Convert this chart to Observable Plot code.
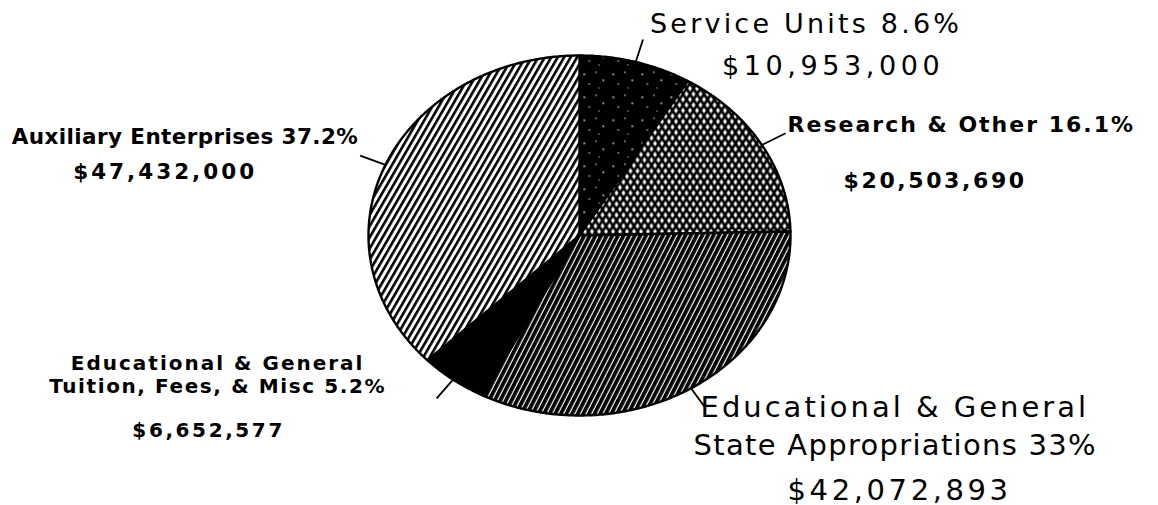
<!DOCTYPE html>
<html><head><meta charset="utf-8">
<script src="https://cdn.jsdelivr.net/npm/d3@7"></script>
<script src="https://cdn.jsdelivr.net/npm/@observablehq/plot@0.6"></script>
<style>html,body{margin:0;padding:0;background:#fff;} svg{display:block;}</style>
</head><body><div id="chart"></div>
<script>
// ---- data ----
const categories = ["Service Units", "Research & Other", "Educational & General State Appropriations", "Educational & General Tuition, Fees, & Misc", "Auxiliary Enterprises"];
const nameLines = [["Service Units"], ["Research & Other"], ["Educational & General", "State Appropriations"], ["Educational & General", "Tuition, Fees, & Misc"], ["Auxiliary Enterprises"]];
const amounts = [10953000, 20503690, 42072893, 6652577, 47432000];
const percentLabels = ["8.6%", "16.1%", "33%", "5.2%", "37.2%"];
const fillPatterns = ["speckle", "crosshatch", "densehatch", "solid", "hatch"];

// ---- layout / style (not data) ----
const labelLayout = [
  {font: "DejaVu Sans", weight: "normal", size: 27, lines: [[7, -6, "start", 3.2], [79, 36, "start", 4.6]]},
  {font: "DejaVu Sans", weight: "bold", size: 22, lines: [[2, -1, "start", 2.0], [58, 55, "start", 2.6]]},
  {font: "DejaVu Sans", weight: "normal", size: 29, lines: [[-5, 9, "start", 3.0], [-12, 47, "start", 1.3], [82, 92, "start", 3.6]]},
  {font: "DejaVu Sans", weight: "bold", size: 20, lines: [[-219, -28, "middle", 2.0], [-219, -5, "middle", 1.6], [-228, 39, "middle", 2.6]]},
  {font: "DejaVu Sans", weight: "bold", size: 21.5, lines: [[-2, -12, "end", 0.4], [-287, 23, "start", 3.0]]}
];
const leaderOuter = 1.13;

const fmtMoney = d3.format("$,");
const arcs = d3.pie().sort(null).value(d => d)(amounts);
const mid = a => (a.startAngle + a.endAngle) / 2;

// slice polygons in unit-ellipse space (x = sin, y = cos; clockwise from 12 o'clock)
const polys = arcs.map((a, i) => {
  const n = Math.max(4, Math.ceil((a.endAngle - a.startAngle) / 0.01));
  const pts = [{i, x: 0, y: 0}];
  for (let k = 0; k <= n; ++k) {
    const t = a.startAngle + (a.endAngle - a.startAngle) * k / n;
    pts.push({i, x: Math.sin(t), y: Math.cos(t)});
  }
  pts.push({i, x: 0, y: 0});
  return pts;
});

const sliceMarks = polys.map((p, i) => Plot.line(p, {
  x: "x", y: "y", fill: `url(#pat-${fillPatterns[i]})`, stroke: "black", strokeWidth: 2.4, strokeLinejoin: "round"
}));

const leaders = Plot.link(arcs, {
  x1: a => Math.sin(mid(a)), y1: a => Math.cos(mid(a)),
  x2: a => leaderOuter * Math.sin(mid(a)), y2: a => leaderOuter * Math.cos(mid(a)),
  stroke: "black", strokeWidth: 1.8
});

const textMarks = [];
const spacings = [];
arcs.forEach((a, i) => {
  const lines = nameLines[i].slice();
  lines[lines.length - 1] = lines[lines.length - 1] + " " + percentLabels[i];
  lines.push(fmtMoney(amounts[i]));
  const L = labelLayout[i];
  lines.forEach((txt, j) => {
    const [dx, dy, anchor, sp] = L.lines[j];
    spacings.push(sp);
    textMarks.push(Plot.text([a], {
      x: d => leaderOuter * Math.sin(mid(d)), y: d => leaderOuter * Math.cos(mid(d)),
      text: () => txt, dx, dy, textAnchor: anchor, lineAnchor: "bottom",
      fontFamily: L.font, fontWeight: L.weight, fontSize: L.size, fill: "black"
    }));
  });
});

const svg = Plot.plot({
  width: 1158, height: 505,
  marginLeft: 368, marginRight: 368, marginTop: 55, marginBottom: 90,
  x: {domain: [-1, 1], axis: null},
  y: {domain: [-1, 1], axis: null},
  style: {background: "white", overflow: "visible"},
  marks: [...sliceMarks, leaders, ...textMarks]
});

const defs = document.createElementNS("http://www.w3.org/2000/svg", "defs");
defs.innerHTML = `
<pattern id="pat-hatch" patternUnits="userSpaceOnUse" width="5.6" height="6" patternTransform="rotate(30)">
  <rect width="5.6" height="6" fill="white"/><rect x="0" width="2.6" height="6" fill="black"/>
</pattern>
<pattern id="pat-densehatch" patternUnits="userSpaceOnUse" width="5" height="5" patternTransform="rotate(27)">
  <rect width="5" height="5" fill="black"/><rect x="3.8" width="1.2" height="5" fill="white"/>
</pattern>
<pattern id="pat-crosshatch" patternUnits="userSpaceOnUse" width="7" height="11">
  <rect width="7" height="11" fill="white"/>
  <path d="M-7,-11L14,22M14,-11L-7,22" stroke="black" stroke-width="2.7"/>
</pattern>
<pattern id="pat-speckle" patternUnits="userSpaceOnUse" width="29" height="23">
  <rect width="29" height="23" fill="black"/>
  <rect x="3" y="4" width="1.5" height="1.5" fill="white"/>
  <rect x="15" y="2" width="1" height="1.5" fill="white"/>
  <rect x="22" y="10" width="1.5" height="1.5" fill="white"/>
  <rect x="8" y="14" width="1.5" height="1" fill="white"/>
  <rect x="18" y="18" width="1" height="1" fill="white"/>
</pattern>
<pattern id="pat-solid" patternUnits="userSpaceOnUse" width="4" height="4">
  <rect width="4" height="4" fill="black"/>
</pattern>`;
svg.insertBefore(defs, svg.firstChild);

svg.querySelectorAll('g[aria-label="text"] text').forEach((t, k) => {
  t.setAttribute("letter-spacing", spacings[k]);
});

document.getElementById("chart").appendChild(svg);
</script>
</body></html>
